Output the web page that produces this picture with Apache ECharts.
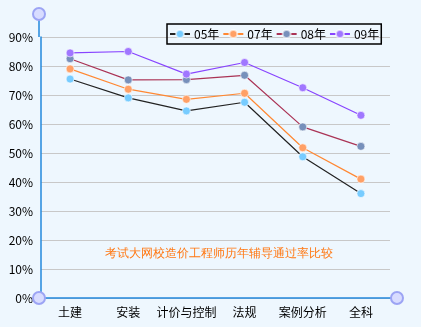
<!DOCTYPE html>
<html><head><meta charset="utf-8">
<script src="https://cdn.jsdelivr.net/npm/echarts@6/dist/echarts.min.js"></script>
<style>html,body{margin:0;padding:0;background:#EEF7FE;}#c{width:421px;height:327px;}</style>
</head><body><div id="c"></div>
<script>
const categories = ['土建','安装','计价与控制','法规','案例分析','全科'];
const seriesNames = ['05年','07年','08年','09年'];
const y05 = [75.5, 69, 64.5, 67.5, 48.7, 36];
const y07 = [79, 72, 68.5, 70.6, 51.8, 41];
const y08 = [82.5, 75.2, 75.3, 76.8, 59, 52.3];
const y09 = [84.5, 85, 77.2, 81.2, 72.5, 63];
const yTicks = [0,10,20,30,40,50,60,70,80,90];
const title = '考试大网校造价工程师历年辅导通过率比较';

const lineColors = ['#222222','#FF8833','#AA3355','#8844FF'];
const markColors = ['#77CCFF','#FFA066','#7790BB','#A077FF'];
const data = [y05,y07,y08,y09];

const chart = echarts.init(document.getElementById('c'));
const ring = (x,y) => ({type:'circle', shape:{cx:x, cy:y, r:6}, style:{fill:'#D8DCFF', stroke:'#9CA4F4', lineWidth:2}, z:100});
chart.setOption({
  backgroundColor:'#EEF7FE',
  animation:false,
  textStyle:{fontFamily:'"Noto Sans CJK SC", sans-serif'},
  grid:{left:41, right:31, top:37, bottom:29},
  legend:{
    data:seriesNames, left:167, top:24,
    padding:[4,2], itemGap:3, itemWidth:20, itemHeight:10,
    borderColor:'#000', borderWidth:1.5,
    textStyle:{color:'#000', fontSize:12, padding:[0,0,0,-1], fontFamily:'"Noto Sans CJK SC", sans-serif'}
  },
  xAxis:{
    type:'category', data:categories, boundaryGap:true,
    axisLine:{lineStyle:{color:'#2288DD', width:1.5}},
    axisTick:{show:false},
    axisLabel:{color:'#000', fontSize:12, margin:8, interval:0}
  },
  yAxis:{
    type:'value', min:0, max:90, interval:10,
    axisLine:{show:true, lineStyle:{color:'#2288DD', width:1.5}},
    axisTick:{show:false},
    axisLabel:{color:'#000', fontSize:12, margin:8, formatter:v=>v+'%'},
    splitLine:{lineStyle:{color:'#C8C8C8', width:1}}
  },
  graphic:[
    {type:'line', shape:{x1:39,y1:14,x2:39,y2:37}, style:{stroke:'#2288DD', lineWidth:1.5}},
    {type:'line', shape:{x1:390,y1:298,x2:397,y2:298}, style:{stroke:'#2288DD', lineWidth:1.5}},
    ring(39,14), ring(39,298), ring(397,298),
    {type:'text', left:105, top:248, style:{text:title, fill:'#FF7711', fontSize:12, font:'12px "Noto Sans CJK SC", sans-serif'}}
  ],
  series: seriesNames.map((n,i)=>({
    name:n, type:'line', data:data[i], symbol:'circle', symbolSize:8,
    lineStyle:{color:lineColors[i], width:1.2},
    itemStyle:{color:markColors[i], borderColor:'rgba(255,255,255,0.6)', borderWidth:1},
    z:2+i
  }))
});
</script></body></html>
